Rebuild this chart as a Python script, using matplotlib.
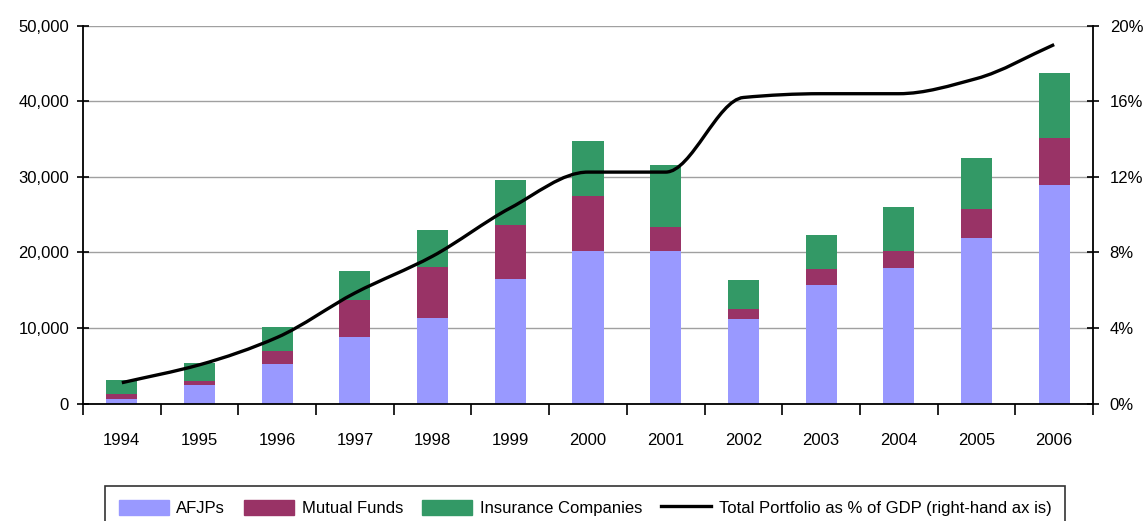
import numpy as np
import matplotlib
matplotlib.use('Agg')
import matplotlib.pyplot as plt
from matplotlib.path import Path
from matplotlib.patches import PathPatch, Patch
from matplotlib.lines import Line2D
from matplotlib.ticker import FuncFormatter

years = ['1994', '1995', '1996', '1997', '1998', '1999', '2000',
         '2001', '2002', '2003', '2004', '2005', '2006']
afjps = [530, 2510, 5290, 8860, 11380, 16530, 20240,
         20200, 11240, 15680, 17930, 21900, 28920]
mutual_funds = [790, 530, 1720, 4900, 6650, 7060, 7260,
                3100, 1320, 2120, 2250, 3840, 6220]
insurance = [1855, 2360, 3090, 3830, 4990, 6040, 7300,
             8300, 3840, 4500, 5820, 6750, 8600]
gdp_share = [1.1, 2.05, 3.5, 5.85, 7.8, 10.35, 12.25,
             12.25, 16.2, 16.4, 16.4, 17.2, 19.0]

plt.rcParams['font.family'] = ['Liberation Sans', 'DejaVu Sans']
plt.rcParams['font.size'] = 12

c_afjp = '#9999FF'
c_mf = '#993366'
c_ins = '#339966'

fig = plt.figure(figsize=(11.47, 5.21), dpi=100)
ax = fig.add_axes([83 / 1147, 1 - 403.5 / 521, 1010 / 1147, 377.8 / 521])
ax2 = ax.twinx()

x = np.arange(len(years))
a = np.array(afjps)
m = np.array(mutual_funds)
ins = np.array(insurance)
w = 0.4
ax.bar(x, a, w, color=c_afjp, zorder=2)
ax.bar(x, m, w, bottom=a, color=c_mf, zorder=2)
ax.bar(x, ins, w, bottom=a + m, color=c_ins, zorder=2)

ax.set_xlim(-0.5, len(years) - 0.5)
ax.set_ylim(0, 50000)
ax.set_yticks(np.arange(0, 50001, 10000))
ax.yaxis.set_major_formatter(FuncFormatter(lambda v, p: f'{v:,.0f}'))
ax.yaxis.grid(True, color='#a0a0a0', lw=1, zorder=0)
ax.set_axisbelow(True)
ax.set_xticks(x)
ax.set_xticklabels(years)
ax.set_xticks(np.arange(-0.5, len(years)), minor=True)
ax.tick_params(axis='x', which='major', length=0, pad=21, labelsize=12)
ax.tick_params(axis='x', which='minor', length=8, width=1.2, direction='out')
ax.tick_params(axis='y', length=8, width=1.2, direction='inout', pad=6, labelsize=12)
for s in ['top', 'right']:
    ax.spines[s].set_visible(False)
for s in ['left', 'bottom']:
    ax.spines[s].set_linewidth(1.3)

# smooth (monotone cubic) line drawn as a bezier path through the data
y = np.array(gdp_share, dtype=float)
d = np.diff(y)
t = np.zeros_like(y)
t[0], t[-1] = d[0], d[-1]
for k in range(1, len(y) - 1):
    if d[k - 1] * d[k] > 0:
        t[k] = 2 / (1 / d[k - 1] + 1 / d[k])
verts = [(x[0], y[0])]
codes = [Path.MOVETO]
for k in range(len(y) - 1):
    verts += [(x[k] + 1 / 3, y[k] + t[k] / 3),
              (x[k + 1] - 1 / 3, y[k + 1] - t[k + 1] / 3),
              (x[k + 1], y[k + 1])]
    codes += [Path.CURVE4] * 3
ax2.add_patch(PathPatch(Path(verts, codes), fill=False, lw=2.4,
                        edgecolor='black', capstyle='butt', zorder=3))
ax2.set_ylim(0, 20)
ax2.set_yticks(np.arange(0, 21, 4))
ax2.yaxis.set_major_formatter(FuncFormatter(lambda v, p: f'{v:.0f}%'))
ax2.tick_params(axis='y', length=8, width=1.2, direction='inout', pad=8, labelsize=12)
for s in ['top', 'left', 'bottom']:
    ax2.spines[s].set_visible(False)
ax2.spines['right'].set_linewidth(1.3)

handles = [Patch(color=c_afjp), Patch(color=c_mf), Patch(color=c_ins),
           Line2D([], [], color='black', lw=2.4)]
labels = ['AFJPs', 'Mutual Funds', 'Insurance Companies',
          'Total Portfolio as % of GDP (right-hand ax is)']
leg = fig.legend(handles, labels, ncol=4, loc='upper center',
                 bbox_to_anchor=(585 / 1147, 1 - 478 / 521),
                 frameon=True, fancybox=False, edgecolor='black',
                 handlelength=3.0, handleheight=1.0, handletextpad=0.45,
                 columnspacing=1.15, borderpad=0.8, fontsize=12)
leg.get_frame().set_linewidth(1.2)

fig.savefig('out.png', dpi=100)
